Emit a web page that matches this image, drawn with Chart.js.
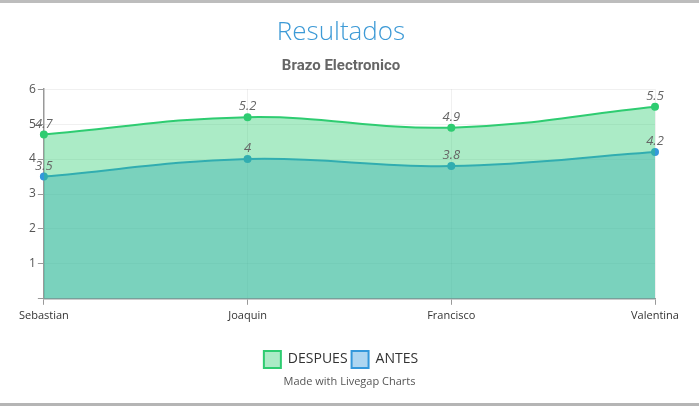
<!DOCTYPE html>
<html>
<head>
<meta charset="utf-8">
<script src="https://cdn.jsdelivr.net/npm/chart.js@4.4.0/dist/chart.umd.min.js"></script>
<style>
  html, body { margin: 0; padding: 0; background: #fff; width: 699px; height: 408px; overflow: hidden; font-family: "Open Sans", sans-serif; }
  #topbar { position: absolute; left: 0; top: 0; width: 699px; height: 3px; background: #bdbdbd; }
  #botbar { position: absolute; left: 0; top: 403px; width: 699px; height: 3px; background: #b5b5b5; }
  #wrap { position: absolute; left: 0; top: 3px; width: 699px; height: 375px; }
  #credit { position: absolute; left: 0; top: 373px; width: 699px; text-align: center; font-size: 11px; color: #555; font-family: "Open Sans", sans-serif; }
</style>
</head>
<body>
<div id="topbar"></div>
<div id="wrap"><canvas id="c"></canvas></div>
<div id="credit">Made with Livegap Charts</div>
<div id="botbar"></div>
<script>
const categories = ["Sebastian", "Joaquin", "Francisco", "Valentina"];
const despues = [4.7, 5.2, 4.9, 5.5];
const antes = [3.5, 4, 3.8, 4.2];
const yTicks = [0, 1, 2, 3, 4, 5, 6];

const valueLabels = {
  id: 'valueLabels',
  afterDatasetsDraw(chart) {
    const ctx = chart.ctx;
    ctx.save();
    ctx.font = 'italic 13px "Open Sans"';
    ctx.fillStyle = '#666';
    ctx.textAlign = 'center';
    ctx.textBaseline = 'bottom';
    chart.data.datasets.forEach((ds, i) => {
      const meta = chart.getDatasetMeta(i);
      meta.data.forEach((pt, j) => {
        ctx.fillText(String(ds.data[j]), pt.x, pt.y - 4);
      });
    });
    ctx.restore();
  }
};

new Chart(document.getElementById('c'), {
  type: 'line',
  data: {
    labels: categories,
    datasets: [
      {
        label: 'DESPUES',
        data: despues,
        borderColor: 'rgba(46,204,113,1)',
        backgroundColor: 'rgba(46,204,113,0.4)',
        fill: 'origin',
        tension: 0.4,
        borderWidth: 2,
        pointRadius: 3,
        pointBackgroundColor: 'rgba(46,204,113,1)',
        pointBorderColor: 'rgba(46,204,113,1)'
      },
      {
        label: 'ANTES',
        data: antes,
        borderColor: 'rgba(52,152,219,1)',
        backgroundColor: 'rgba(52,152,219,0.4)',
        fill: 'origin',
        tension: 0.4,
        borderWidth: 2,
        pointRadius: 3,
        pointBackgroundColor: 'rgba(52,152,219,1)',
        pointBorderColor: 'rgba(52,152,219,1)'
      }
    ]
  },
  options: {
    responsive: true,
    maintainAspectRatio: false,
    animation: false,
    layout: { padding: { left: 27, right: 44, top: 0, bottom: 0 } },
    plugins: {
      title: {
        display: true,
        text: 'Resultados',
        color: '#3d9ad6',
        font: { family: 'Open Sans', size: 26, weight: '300' },
        padding: { top: 14, bottom: 4 }
      },
      subtitle: {
        display: true,
        text: 'Brazo Electronico',
        color: '#666',
        font: { family: 'Roboto', size: 15, weight: 'bold' },
        padding: { top: 5, bottom: 14 }
      },
      legend: {
        position: 'bottom',
        labels: {
          color: '#333',
          font: { family: 'Open Sans', size: 14 },
          boxWidth: 17,
          boxHeight: 17,
          padding: 4,
          useBorderRadius: false
        }
      },
      tooltip: { enabled: false }
    },
    scales: {
      x: {
        offset: false,
        afterFit(scale) { scale.height += 21; },
        grid: { color: 'rgba(0,0,0,0.06)', tickColor: '#999', tickLength: 6 },
        border: { color: '#999', width: 1.5 },
        ticks: { color: '#333', font: { family: 'Open Sans', size: 11 }, maxRotation: 0, padding: 4 }
      },
      y: {
        min: yTicks[0],
        max: yTicks[yTicks.length - 1],
        afterBuildTicks(axis) { axis.ticks = yTicks.map(v => ({ value: v })); },
        grid: { color: 'rgba(0,0,0,0.06)', tickColor: '#999', tickLength: 6 },
        border: { color: '#999', width: 1.5 },
        ticks: {
          color: '#555',
          font: { family: 'Open Sans', size: 12 },
          padding: 2,
          callback: v => (v === 0 ? '' : v)
        }
      }
    }
  },
  plugins: [valueLabels]
});
</script>
</body>
</html>
